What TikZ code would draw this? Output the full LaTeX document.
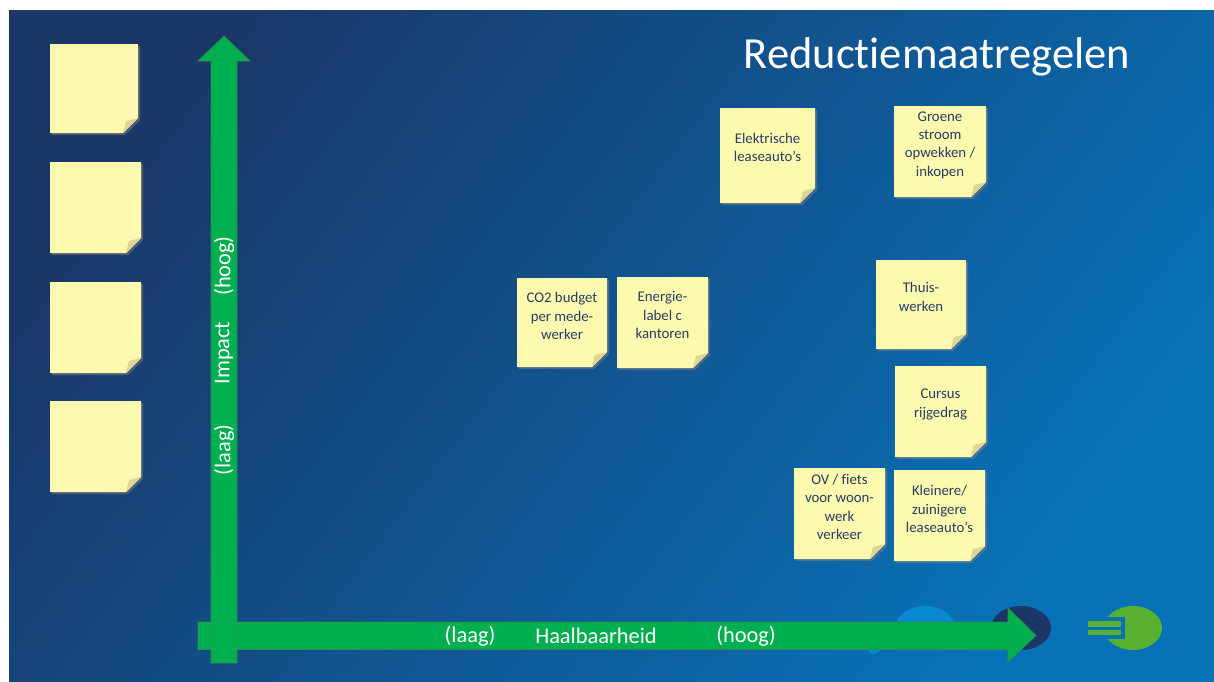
\documentclass[tikz,border=0pt]{standalone}
\usepackage{fontspec}
\setmainfont{Carlito}[Ligatures=NoCommon]
\usetikzlibrary{calc,shadows}
\definecolor{mynavy}{RGB}{26,55,104}
\definecolor{myblue}{RGB}{8,114,184}
\definecolor{mysky}{RGB}{8,138,208}
\definecolor{mylime}{RGB}{88,176,48}
\definecolor{mygreen}{RGB}{0,176,80}
\definecolor{myedge}{RGB}{48,140,70}
\definecolor{mynote}{RGB}{253,249,175}
\definecolor{myfold}{RGB}{222,212,150}
\definecolor{myink}{RGB}{38,62,100}
\tikzset{
    notepaper/.style={fill=mynote, drop shadow={opacity=0.5, shadow xshift=2pt, shadow yshift=-2pt}},
    notefold/.style={fill=myfold},
    notetext/.style={anchor=center, align=center, text=myink, font=\fontsize{14.8}{18.4}\selectfont},
    axisarrow/.style={fill=mygreen, draw=myedge, line width=0.8pt},
    axistext/.style={anchor=center, text=white, font=\fontsize{22.4}{26}\selectfont},
}
% sticky note: name, left, top, right, bottom, y of text, text
\newcommand{\stickynote}[7]{
    \fill[notepaper] (#2, #3) -- (#4, #3) -- (#4, #5-15) -- (#4-15, #5) -- (#2, #5) -- cycle;
    \fill[notefold] (#4, #5-15) -- (#4-15, #5) -- (#4-12, #5-12) -- cycle;
    \node[notetext] (#1) at ({(#2+#4)/2}, #6) {#7};
}

\begin{document}
\begin{tikzpicture}[x=1pt, y=-1pt]
    \useasboundingbox (0, 0) rectangle (1214, 681);
    % Background
    \shade[bottom color=mynavy, top color=myblue, shading angle=-127] (9, 10) rectangle (1214, 681);
    % Title
    \node[anchor=center, text=white, font=\fontsize{44.5}{50}\selectfont] (title) at (937, 57) {Reductiemaatregelen};
    % Logo shapes
    \fill[mysky] (925, 628) ellipse [x radius=30, y radius=22];
    \fill[mysky] (867, 650) -- (881, 650) -- (873, 655) -- cycle;
    \fill[mynavy] (1021, 628) ellipse [x radius=30, y radius=22];
    \fill[mylime] (1133, 628) ellipse [x radius=29, y radius=22];
    \fill[myblue] (1086, 617) rectangle (1125, 639);
    \fill[mylime] (1088, 621) rectangle (1121, 626.5);
    \fill[mylime] (1088, 629.5) rectangle (1121, 635);
    % Empty notes
    \stickynote{emptyA}{50}{44}{138}{133}{88}{}
    \stickynote{emptyB}{50}{162}{141}{253}{207}{}
    \stickynote{emptyC}{50}{282}{141}{373}{327}{}
    \stickynote{emptyD}{50}{401}{141}{492}{446}{}
    % Placed notes
    \stickynote{lease}{720}{108}{815}{203}{147.5}{Elektrische\\leaseauto’s}
    \stickynote{stroom}{894}{106}{986}{197}{145}{Groene\\stroom\\opwekken /\\inkopen}
    \stickynote{budget}{517}{278}{607}{367}{316}{CO2 budget\\per mede-\\werker}
    \stickynote{label}{617}{277}{708}{368}{315}{Energie-\\label c\\kantoren}
    \stickynote{thuis}{876}{260}{966}{349}{297}{Thuis-\\werken}
    \stickynote{cursus}{895}{366}{986}{457}{404.5}{Cursus\\rijgedrag}
    \stickynote{fiets}{794}{468}{885}{559}{507}{OV / fiets\\voor woon-\\werk\\verkeer}
    \stickynote{klein}{894}{470}{985}{561}{509}{Kleinere/\\zuinigere\\leaseauto’s}
    % Axes
    \draw[axisarrow] (198, 622) -- (1008, 622) -- (1008, 608) -- (1036, 635.5)
        -- (1008, 662) -- (1008, 649.5) -- (198, 649.5) -- cycle;
    \draw[axisarrow] (211, 663) -- (211, 61) -- (198, 61) -- (224, 36)
        -- (250, 61) -- (237, 61) -- (237, 663) -- cycle;
    % Axis labels
    \node[axistext] (xlow) at (470, 636) {(laag)};
    \node[axistext] (xname) at (596, 636) {Haalbaarheid};
    \node[axistext] (xhigh) at (746, 636) {(hoog)};
    \node[axistext, rotate=90] (yhigh) at (224, 266) {(hoog)};
    \node[axistext, rotate=90] (yname) at (224, 353) {Impact};
    \node[axistext, rotate=90] (ylow) at (224, 450) {(laag)};
\end{tikzpicture}
\end{document}
